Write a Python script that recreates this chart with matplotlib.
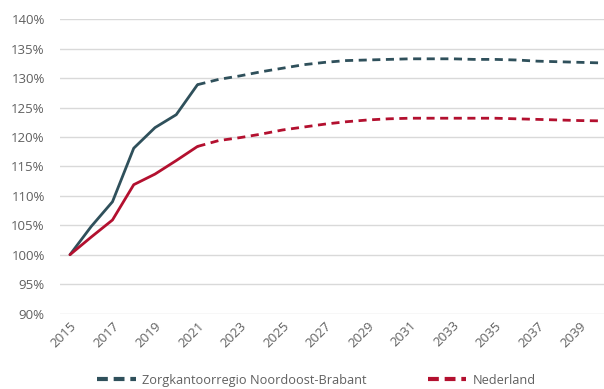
import numpy as np
import matplotlib.pyplot as plt
from matplotlib.lines import Line2D
from matplotlib.ticker import FuncFormatter

plt.rcParams['font.family'] = ['Open Sans', 'DejaVu Sans']

years = list(range(2015, 2041))
last_actual = 2021

brabant = [100.0, 104.8, 109.0, 118.1, 121.6, 123.8, 128.9,
           129.8, 130.4, 131.1, 131.7, 132.3, 132.7, 133.0, 133.1, 133.2,
           133.3, 133.3, 133.3, 133.2, 133.2, 133.1, 132.9, 132.8, 132.7, 132.6]
nederland = [100.0, 103.0, 105.9, 111.9, 113.7, 116.0, 118.4,
             119.4, 119.9, 120.5, 121.2, 121.7, 122.2, 122.6, 122.9, 123.1,
             123.2, 123.2, 123.2, 123.2, 123.2, 123.1, 123.0, 122.9, 122.8, 122.75]

series_names = ['Zorgkantoorregio Noordoost-Brabant', 'Nederland']
colors = ['#2f505b', '#b3102f']
text_color = '#606060'

fig = plt.figure(figsize=(6.04, 3.89), dpi=100)
ax = fig.add_axes([60 / 604, (389 - 313.5) / 389, 544 / 604, (313.5 - 19.4) / 389])

x = np.arange(len(years))
split = years.index(last_actual)
for values, color in zip([brabant, nederland], colors):
    v = np.array(values)
    ax.plot(x[:split + 1], v[:split + 1], color=color, lw=2.0,
            solid_joinstyle='round', solid_capstyle='round')
    ax.plot(x[split:], v[split:], color=color, lw=2.0, dashes=(2.9, 2.0))

ax.set_ylim(90, 140)
ax.set_yticks(np.arange(90, 141, 5))
ax.yaxis.set_major_formatter(FuncFormatter(lambda v, p: f'{v:.0f}%'))
ax.set_xlim(-0.47, 25.13)
ax.set_xticks(x[::2])
ax.set_xticklabels([str(y) for y in years[::2]], rotation=45, ha='right',
                   rotation_mode='anchor')

ax.grid(axis='y', color='#d9d9d9', lw=1.0)
ax.set_axisbelow(True)
for s in ax.spines.values():
    s.set_visible(False)
ax.tick_params(axis='both', length=0, labelsize=9.5, colors=text_color)
ax.tick_params(axis='y', pad=11)
ax.tick_params(axis='x', pad=4)

handles = [Line2D([], [], color=c, lw=3.0, dashes=(2.6, 1.4)) for c in colors]
leg = fig.legend(handles, series_names, loc='center', bbox_to_anchor=(0.524, 0.022),
                 ncol=2, frameon=False, fontsize=9.2, handlelength=3.0,
                 columnspacing=4.8, handletextpad=0.5, labelcolor=text_color)

fig.savefig('out.png', dpi=100)
